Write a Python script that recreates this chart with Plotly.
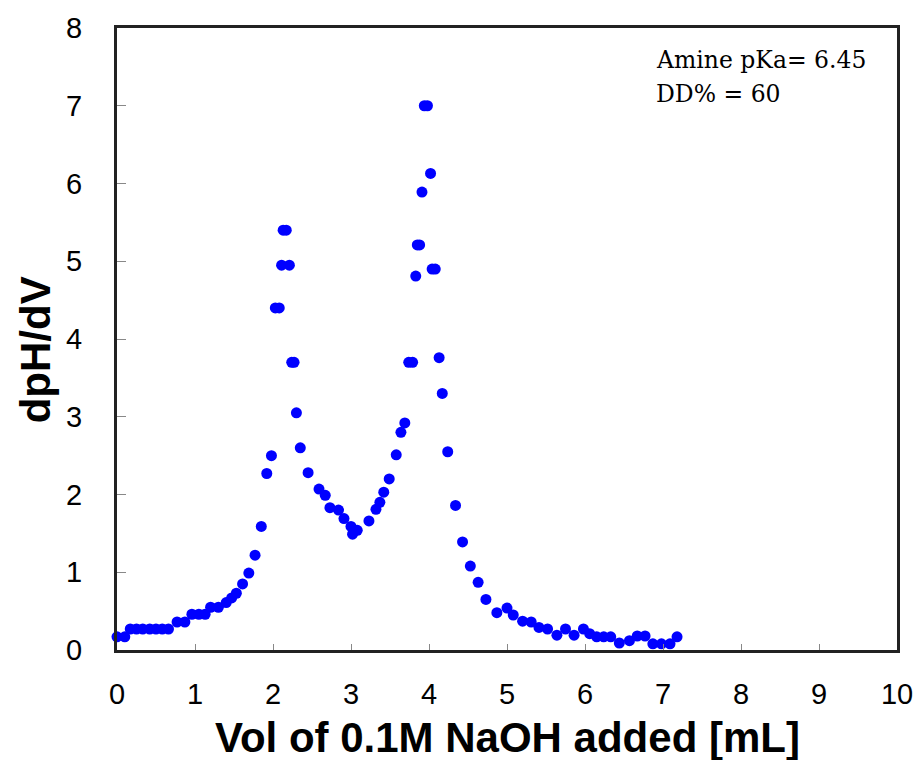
import plotly.graph_objects as go

# Volume of 0.1M NaOH added [mL]
vol_ml = [0.00, 0.10, 0.17, 0.25, 0.33, 0.42, 0.50, 0.58, 0.66, 0.77, 0.87, 0.96, 1.05, 1.13,
          1.20, 1.30, 1.40, 1.47, 1.53, 1.61, 1.69, 1.77, 1.85, 1.92, 1.98,
          2.03, 2.08, 2.11, 2.13, 2.17, 2.21, 2.24, 2.27, 2.30, 2.35, 2.45, 2.59, 2.67, 2.73,
          2.84, 2.91, 3.00, 3.02, 3.08, 3.23, 3.32, 3.37, 3.42, 3.49, 3.58, 3.64, 3.69,
          3.74, 3.79, 3.83, 3.85, 3.88, 3.91, 3.94, 3.98, 4.02, 4.04, 4.08, 4.13, 4.17,
          4.24, 4.34, 4.43, 4.53, 4.63, 4.73, 4.87, 5.00, 5.08, 5.20, 5.31, 5.41, 5.52,
          5.64, 5.75, 5.86, 5.98, 6.06, 6.15, 6.24, 6.33, 6.44, 6.57, 6.67, 6.77, 6.87,
          6.98, 7.09, 7.18]

# dpH/dV
dph_dv = [0.17, 0.17, 0.27, 0.27, 0.27, 0.27, 0.27, 0.27, 0.27, 0.36, 0.36, 0.46, 0.46, 0.46,
          0.55, 0.55, 0.61, 0.67, 0.73, 0.85, 0.99, 1.22, 1.59, 2.27, 2.50,
          4.40, 4.40, 4.95, 5.40, 5.40, 4.95, 3.70, 3.70, 3.05, 2.60, 2.28, 2.07, 1.99, 1.83,
          1.80, 1.69, 1.59, 1.49, 1.54, 1.66, 1.81, 1.90, 2.03, 2.20, 2.51, 2.80, 2.92,
          3.70, 3.70, 4.81, 5.21, 5.21, 5.89, 7.00, 7.00, 6.13, 4.90, 4.90, 3.76, 3.30,
          2.55, 1.86, 1.39, 1.08, 0.87, 0.65, 0.48, 0.54, 0.45, 0.37, 0.36, 0.29, 0.27,
          0.19, 0.27, 0.19, 0.27, 0.21, 0.17, 0.17, 0.17, 0.09, 0.12, 0.18, 0.18, 0.08,
          0.08, 0.08, 0.17]

x_ticks = [0, 1, 2, 3, 4, 5, 6, 7, 8, 9, 10]
y_ticks = [0, 1, 2, 3, 4, 5, 6, 7, 8]
x_title = "Vol of 0.1M NaOH added [mL]"
y_title = "dpH/dV"
note_lines = ["Amine pKa= 6.45", "DD% = 60"]

fig = go.Figure()
fig.add_trace(go.Scatter(
    x=vol_ml, y=dph_dv, mode="markers",
    marker=dict(color="#0000FF", size=11, line=dict(width=0)),
    cliponaxis=False, showlegend=False,
))

tick_font = dict(family="Liberation Sans, Arial, sans-serif", size=29, color="black")
title_font = dict(family="Liberation Sans, Arial, sans-serif", size=42, color="black")

# The page body adds an 8px margin, so the figure is sized 8px smaller.
fig.update_layout(
    width=914, height=752,
    margin=dict(l=109, r=25, t=20, b=110),
    paper_bgcolor="white", plot_bgcolor="white",
    xaxis=dict(
        range=[0, 10], tickvals=x_ticks, ticktext=[str(v) for v in x_ticks],
        showgrid=False, zeroline=False, automargin=False,
        showline=True, linecolor="#222", linewidth=3, mirror=True,
        ticks="inside", ticklen=6, tickwidth=1, tickcolor="#888",
        tickfont=tick_font, ticklabelstandoff=16,
    ),
    yaxis=dict(
        range=[0, 8], tickvals=y_ticks, ticktext=[str(v) for v in y_ticks],
        showgrid=False, zeroline=False, automargin=False,
        showline=True, linecolor="#222", linewidth=3, mirror=True,
        ticks="inside", ticklen=9, tickwidth=1, tickcolor="#888",
        tickfont=tick_font, ticklabelstandoff=26,
    ),
)

# axis titles
fig.add_annotation(
    x=0.5, y=-0.14, xref="paper", yref="paper", xanchor="center", yanchor="middle",
    text="<b>" + x_title + "</b>", showarrow=False, font=title_font,
)
fig.add_annotation(
    x=-0.105, y=0.482, xref="paper", yref="paper", xanchor="center", yanchor="middle",
    text="<b>" + y_title + "</b>", showarrow=False, font=title_font, textangle=-90,
)

note_y = [7.59, 7.15]
for txt, yy in zip(note_lines, note_y):
    fig.add_annotation(
        x=6.88, y=yy, xref="x", yref="y", xanchor="left", yanchor="middle",
        text=txt, showarrow=False,
        font=dict(family="DejaVu Serif, serif", size=23.5, color="black"),
    )

fig.write_html("out.html")
